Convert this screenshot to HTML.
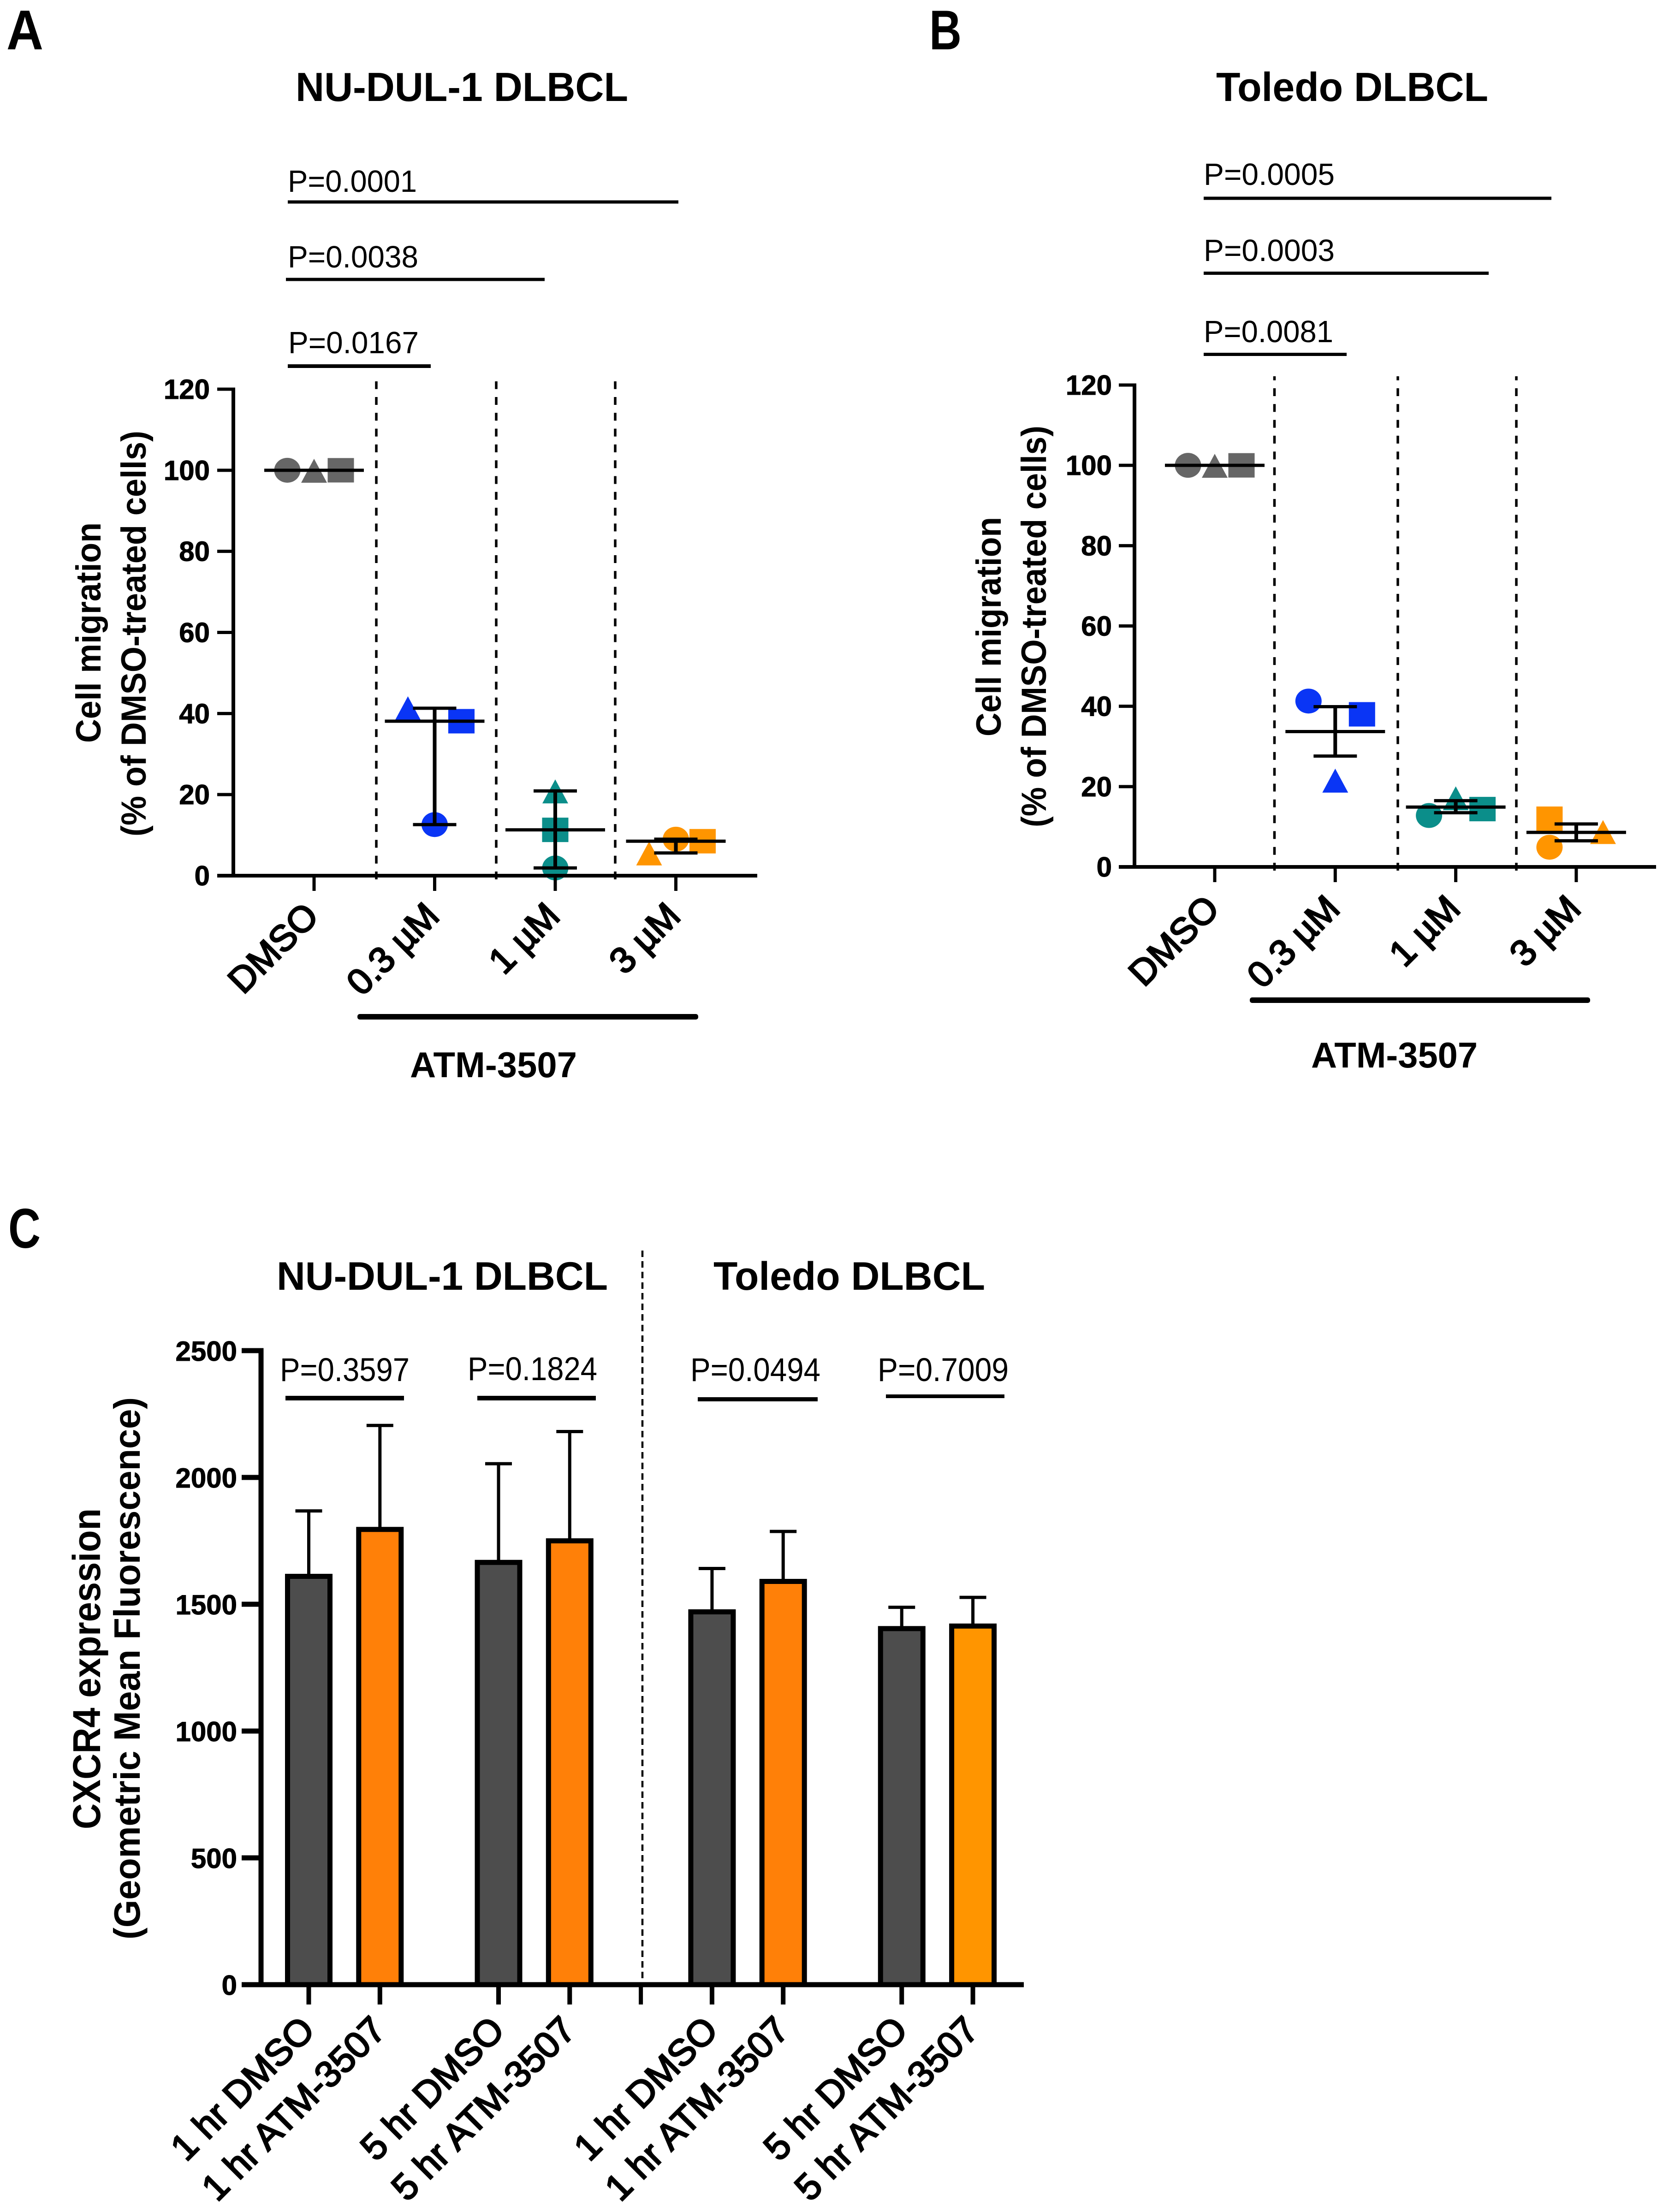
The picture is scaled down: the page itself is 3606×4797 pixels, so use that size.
<!DOCTYPE html>
<html lang="en">
<head>
<meta charset="utf-8">
<title>ATM-3507 cell migration and CXCR4 expression</title>
<style>
html,body{margin:0;padding:0;background:#fff;}
svg{display:block;}
text{font-family:"Liberation Sans",Arial,sans-serif;fill:#000;}
.b{font-weight:bold;}
.m{font-weight:normal;stroke:#000;stroke-width:3;}
.t{font-weight:bold;stroke:#000;stroke-width:1;}
</style>
</head>
<body>
<svg id="figure" xmlns="http://www.w3.org/2000/svg" width="3606" height="4797" viewBox="0 0 3606 4797">
<rect width="3606" height="4797" fill="#fff"/>

<!-- Panel letters -->
<text class="b" x="14" y="107" font-size="122" textLength="80" lengthAdjust="spacingAndGlyphs">A</text>
<text class="b" x="2015" y="107" font-size="122" textLength="70" lengthAdjust="spacingAndGlyphs">B</text>
<text class="b" x="18" y="2706" font-size="122" textLength="70" lengthAdjust="spacingAndGlyphs">C</text>

<!-- Panel A static text -->
<g id="panel-a">
<text class="b" x="641" y="219" font-size="88" textLength="721" lengthAdjust="spacingAndGlyphs">NU-DUL-1 DLBCL</text>
<text x="624" y="416" font-size="67" textLength="280" lengthAdjust="spacingAndGlyphs">P=0.0001</text>
<rect x="624" y="434.5" width="847" height="7"/>
<text x="624" y="580" font-size="67" textLength="283" lengthAdjust="spacingAndGlyphs">P=0.0038</text>
<rect x="620" y="602.5" width="561" height="7"/>
<text x="625" y="766" font-size="67" textLength="283" lengthAdjust="spacingAndGlyphs">P=0.0167</text>
<rect x="624" y="790" width="310" height="8"/>
<text class="b" transform="translate(218,1611) rotate(-90)" font-size="76" textLength="478" lengthAdjust="spacingAndGlyphs">Cell migration</text>
<text class="b" transform="translate(316,1814) rotate(-90)" font-size="76" textLength="880" lengthAdjust="spacingAndGlyphs">(% of DMSO-treated cells)</text>
<rect x="775" y="2199" width="739" height="12" rx="5"/>
<text class="b" x="889" y="2336" font-size="78" textLength="362" lengthAdjust="spacingAndGlyphs">ATM-3507</text>
</g>

<!-- Panel B static text -->
<g id="panel-b">
<text class="b" x="2637" y="219" font-size="88" textLength="590" lengthAdjust="spacingAndGlyphs">Toledo DLBCL</text>
<text x="2610" y="401" font-size="67" textLength="284" lengthAdjust="spacingAndGlyphs">P=0.0005</text>
<rect x="2610" y="426.5" width="754" height="7"/>
<text x="2610" y="566" font-size="67" textLength="284" lengthAdjust="spacingAndGlyphs">P=0.0003</text>
<rect x="2610" y="589" width="618" height="7"/>
<text x="2610" y="742" font-size="67" textLength="281" lengthAdjust="spacingAndGlyphs">P=0.0081</text>
<rect x="2610" y="765" width="310" height="7"/>
<text class="b" transform="translate(2170,1597) rotate(-90)" font-size="76" textLength="476" lengthAdjust="spacingAndGlyphs">Cell migration</text>
<text class="b" transform="translate(2268,1794) rotate(-90)" font-size="76" textLength="871" lengthAdjust="spacingAndGlyphs">(% of DMSO-treated cells)</text>
<rect x="2710" y="2163" width="738" height="12" rx="5"/>
<text class="b" x="2843" y="2315" font-size="78" textLength="361" lengthAdjust="spacingAndGlyphs">ATM-3507</text>
</g>

<!-- Panel C static text -->
<g id="panel-c">
<text class="b" x="600" y="2797" font-size="86" textLength="718" lengthAdjust="spacingAndGlyphs">NU-DUL-1 DLBCL</text>
<text class="b" x="1547" y="2797" font-size="86" textLength="589" lengthAdjust="spacingAndGlyphs">Toledo DLBCL</text>
<line x1="1393" y1="2712" x2="1393" y2="4300" stroke="#000" stroke-width="4.5" stroke-dasharray="14 9"/>
<text x="607" y="2995" font-size="71" textLength="281" lengthAdjust="spacingAndGlyphs">P=0.3597</text>
<rect x="619" y="3027" width="257" height="10"/>
<text x="1014" y="2993" font-size="71" textLength="281" lengthAdjust="spacingAndGlyphs">P=0.1824</text>
<rect x="1035" y="3027" width="257" height="10"/>
<text x="1497" y="2995" font-size="71" textLength="282" lengthAdjust="spacingAndGlyphs">P=0.0494</text>
<rect x="1513" y="3030" width="260" height="9"/>
<text x="1903" y="2995" font-size="71" textLength="284" lengthAdjust="spacingAndGlyphs">P=0.7009</text>
<rect x="1921" y="3024" width="257" height="8"/>
<text class="b" transform="translate(217,3967) rotate(-90)" font-size="84" textLength="696" lengthAdjust="spacingAndGlyphs">CXCR4 expression</text>
<text class="b" transform="translate(303,4206) rotate(-90)" font-size="80" textLength="1176" lengthAdjust="spacingAndGlyphs">(Geometric Mean Fluorescence)</text>
</g>
</svg>

<script>
// ---- Panels A and B: shared axis data ----
const doseCategories = ['DMSO', '0.3 µM', '1 µM', '3 µM'];
const migrationTicks = [0, 20, 40, 60, 80, 100, 120];

// Panel A values (% of DMSO), one entry per dose
const aCircle = [100, 12.6, 1.9, 9.0];
const aTriangle = [100, 41.4, 20.9, 5.6];
const aSquare = [100, 38.1, 11.3, 8.5];
const aCentre = [100, 38.1, 11.3, 8.5];
const aErrLow = [100, 12.6, 1.9, 5.6];
const aErrHigh = [100, 41.3, 20.9, 9.0];
// Swarm slot (-1 left, 0 centre, 1 right) of each replicate per dose
const aCircleSlot = [-1, 0, 0, 0];
const aTriangleSlot = [0, -1, 0, -1];
const aSquareSlot = [1, 1, 0, 1];

// Panel B values
const bCircle = [100, 41.3, 12.8, 4.9];
const bTriangle = [100, 21.6, 17.2, 8.8];
const bSquare = [100, 38.0, 14.4, 12.0];
const bCentre = [100, 33.7, 14.9, 8.6];
const bErrLow = [100, 27.6, 13.5, 6.5];
const bErrHigh = [100, 39.9, 16.5, 10.7];
const bCircleSlot = [-1, -1, -1, -1];
const bTriangleSlot = [0, 0, 0, 1];
const bSquareSlot = [1, 1, 1, -1];

// ---- Panel C ----
const cCategories = ['1 hr DMSO', '1 hr ATM-3507', '5 hr DMSO', '5 hr ATM-3507', '1 hr DMSO', '1 hr ATM-3507', '5 hr DMSO', '5 hr ATM-3507'];
const cValues = [1610, 1795, 1665, 1750, 1470, 1590, 1404, 1414];
const cErrorTops = [1868, 2205, 2054, 2181, 1641, 1787, 1488, 1527];
const cTicks = [0, 500, 1000, 1500, 2000, 2500];
const cPositions = [0, 1, 2.667, 3.667, 5.667, 6.667, 8.333, 9.333];
const cMiddleTick = 4.667;

const SVGNS = 'http://www.w3.org/2000/svg';
const doseColors = ['#666666', '#0a35f5', '#0b8e8a', '#ff9500'];
const cBarColors = ['#4d4d4d', '#ff8008', '#4d4d4d', '#ff8008', '#4d4d4d', '#ff8008', '#4d4d4d', '#ff9500'];

function make(parent, tag, attrs, name) {
  const el = document.createElementNS(SVGNS, tag);
  for (const k in attrs) el.setAttribute(k, attrs[k]);
  
  
  parent.appendChild(el);
  return el;
}
function hline(p, x1, x2, y, w, name) {
  return make(p, 'line', {x1: x1, x2: x2, y1: y, y2: y, stroke: '#000', 'stroke-width': w}, name);
}
function vline(p, x, y1, y2, w, name) {
  return make(p, 'line', {x1: x, x2: x, y1: y1, y2: y2, stroke: '#000', 'stroke-width': w}, name);
}
function label(p, txt, x, y, size, anchor, name, extra) {
  const t = make(p, 'text', Object.assign({x: x, y: y, 'font-size': size, 'text-anchor': anchor, class: 't'}, extra || {}), name);
  t.textContent = txt;
  return t;
}

function drawScatterPanel(p, L, d) {
  const yOf = v => L.y0 - v * (L.y0 - L.y120) / 120;
  const xOf = i => L.x0 + i * L.dx;

  // dashed dividers (drawn bottom-up so the last dash crosses the x axis)
  L.dividers.forEach(function (dx, i) {
    make(p, 'line', {x1: dx, x2: dx, y1: L.divBottom, y2: L.divTop, stroke: '#000', 'stroke-width': 5.5, 'stroke-dasharray': '17 17.3'}, L.id + '-dose-divider-' + i);
  });

  // markers
  doseCategories.forEach(function (cat, i) {
    const x = xOf(i);
    const col = doseColors[i];
    const slug = L.id + '-dose-' + i;
    make(p, 'ellipse', {cx: x + d.circleSlot[i] * L.slot, cy: yOf(d.circle[i]), rx: 28.5, ry: 27, fill: col}, slug + '-circle');
    const tx = x + d.triangleSlot[i] * L.slot;
    const ty = yOf(d.triangle[i]);
    make(p, 'polygon', {points: (tx - 28) + ',' + (ty + 27) + ' ' + tx + ',' + (ty - 25) + ' ' + (tx + 28) + ',' + (ty + 27), fill: col}, slug + '-triangle');
    make(p, 'rect', {x: x + d.squareSlot[i] * L.slot - 28.5, y: yOf(d.square[i]) - 26.5, width: 57, height: 53, fill: col}, slug + '-square');
  });

  // centre line and error bars
  doseCategories.forEach(function (cat, i) {
    const x = xOf(i);
    const slug = L.id + '-dose-' + i;
    hline(p, x - 108, x + 108, yOf(d.centre[i]), 7, slug + '-centre-line');
    if (d.errHigh[i] !== d.errLow[i]) {
      vline(p, x, yOf(d.errHigh[i]), yOf(d.errLow[i]), 8, slug + '-error-bar');
      hline(p, x - 47, x + 47, yOf(d.errHigh[i]), 7, slug + '-error-cap-top');
      hline(p, x - 47, x + 47, yOf(d.errLow[i]), 7, slug + '-error-cap-bottom');
    }
  });

  // axes
  vline(p, L.axisX, L.y120 - 3.5, L.y0, 8, L.id + '-y-axis');
  hline(p, L.tickLeft, L.xEnd, L.y0, 8, L.id + '-x-axis');
  migrationTicks.forEach(function (t) {
    hline(p, L.tickLeft, L.axisX, yOf(t), 7, L.id + '-y-tick-' + t);
    label(p, String(t), L.labelRight, yOf(t) + 21, 60, 'end', L.id + '-y-tick-label-' + t);
  });
  doseCategories.forEach(function (cat, i) {
    const x = xOf(i);
    vline(p, x, L.y0, L.y0 + 33, 7, L.id + '-x-tick-' + i);
    const ax = x + 14, ay = L.y0 + L.labelDy;
    label(p, cat, 0, 0, 79, 'end', L.id + '-x-label-' + i, {class: 'm', transform: 'translate(' + ax + ',' + ay + ') rotate(-45)'});
  });
}

drawScatterPanel(document.getElementById('panel-a'),
  {id: 'a', y0: 1899, y120: 844, x0: 681, dx: 261.5, slot: 58, axisX: 506, tickLeft: 471, xEnd: 1642, labelRight: 455, labelDy: 92,
   dividers: [816, 1076, 1334], divTop: 827, divBottom: 1907},
  {circle: aCircle, triangle: aTriangle, square: aSquare, centre: aCentre, errLow: aErrLow, errHigh: aErrHigh,
   circleSlot: aCircleSlot, triangleSlot: aTriangleSlot, squareSlot: aSquareSlot});

drawScatterPanel(document.getElementById('panel-b'),
  {id: 'b', y0: 1880, y120: 835, x0: 2634, dx: 261.3, slot: 58, axisX: 2460, tickLeft: 2426, xEnd: 3591, labelRight: 2411, labelDy: 95,
   dividers: [2763.5, 3031, 3288], divTop: 816, divBottom: 1888},
  {circle: bCircle, triangle: bTriangle, square: bSquare, centre: bCentre, errLow: bErrLow, errHigh: bErrHigh,
   circleSlot: bCircleSlot, triangleSlot: bTriangleSlot, squareSlot: bSquareSlot});

// Panel C: bars
(function () {
  const p = document.getElementById('panel-c');
  const y0 = 4304, y2500 = 2929, x0 = 669.5, unit = 154.3;
  const axisX = 566, tickLeft = 524, xEnd = 2220;
  const yOf = v => y0 - v * (y0 - y2500) / 2500;
  const xOf = c => x0 + c * unit;

  cCategories.forEach(function (cat, i) {
    const x = xOf(cPositions[i]);
    vline(p, x, yOf(cErrorTops[i]), yOf(cValues[i]), 7, 'c-error-bar-' + i);
    hline(p, x - 29, x + 29, yOf(cErrorTops[i]), 7, 'c-error-cap-' + i);
    make(p, 'rect', {x: x - 46, y: yOf(cValues[i]), width: 92, height: y0 - yOf(cValues[i]), fill: cBarColors[i], stroke: '#000', 'stroke-width': 11}, 'c-bar-' + i);
  });

  vline(p, axisX, y2500 - 5.5, y0 + 5, 11, 'c-y-axis');
  hline(p, tickLeft, xEnd, y0, 11, 'c-x-axis');
  cTicks.forEach(function (t) {
    hline(p, tickLeft, axisX, yOf(t), 11, 'c-y-tick-' + t);
    label(p, String(t), 514, yOf(t) + 22, 60, 'end', 'c-y-tick-label-' + t);
  });
  vline(p, xOf(cMiddleTick), y0, y0 + 43, 9, 'c-x-tick-middle');
  cCategories.forEach(function (cat, i) {
    const x = xOf(cPositions[i]);
    vline(p, x, y0, y0 + 43, 10, 'c-x-tick-' + i);
    const ax = x + 17, ay = y0 + 103;
    label(p, cat, 0, 0, 80, 'end', 'c-x-label-' + i, {class: 'm', transform: 'translate(' + ax + ',' + ay + ') rotate(-45)'});
  });
})();
</script>
</body>
</html>
